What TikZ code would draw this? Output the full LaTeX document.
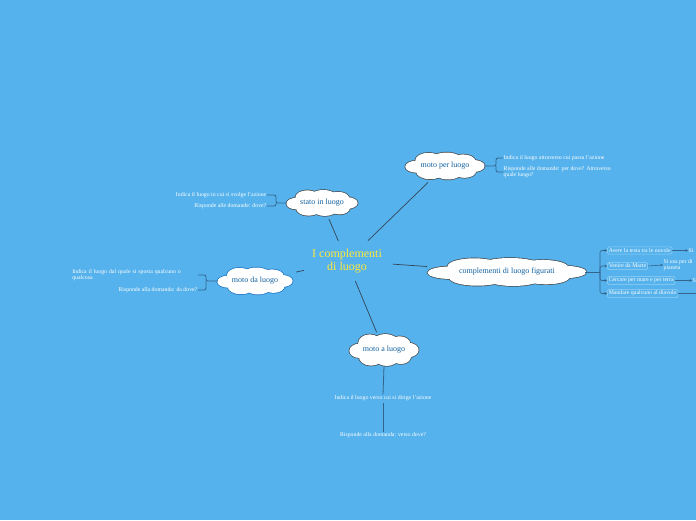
\documentclass[tikz,border=0pt]{standalone}
\usepackage{fontspec}
\setmainfont{Liberation Serif}
\usetikzlibrary{arrows.meta,calc}
\definecolor{bg}{RGB}{85,178,236}
\definecolor{ink}{RGB}{16,96,160}
\definecolor{edge}{RGB}{50,70,90}
\definecolor{brk}{RGB}{50,100,140}
\definecolor{boxline}{RGB}{150,210,245}
\definecolor{titlecol}{RGB}{255,232,60}
\definecolor{blueline}{RGB}{20,110,190}
\newcommand\puffset{0/0/0.8/0.7, -0.72/0.05/0.3/0.45, 0.72/0/0.3/0.45, -0.42/-0.42/0.34/0.56, 0.04/-0.5/0.38/0.5, 0.46/-0.36/0.32/0.5, -0.38/0.42/0.36/0.56, 0.08/0.46/0.36/0.54, 0.5/0.38/0.3/0.5}
% name, x, y, half width, half height, outline colour, text
\newcommand\cloudnode[7]{%
  \coordinate (#1-c) at (#2,#3);
  \foreach \dx/\dy/\rx/\ry in \puffset {\draw[#6, line width=1.3pt] ($(#1-c)+({\dx*#4},{\dy*#5})$) ellipse ({\rx*#4} and {\ry*#5});}
  \foreach \dx/\dy/\rx/\ry in \puffset {\fill[white] ($(#1-c)+({\dx*#4},{\dy*#5})$) ellipse ({\rx*#4} and {\ry*#5});}
  \node[ctext, minimum width={2*#4}, minimum height={2*#5}] (#1) at (#1-c) {#7};
}
\begin{document}
\begin{tikzpicture}[x=1pt,y=-1pt,
  ctext/.style={text=ink, font=\fontsize{8}{9}\selectfont, inner sep=0pt},
  note/.style={text=white, font=\fontsize{5.8}{6.2}\selectfont, inner sep=0.5pt},
  link/.style={draw=edge, line width=0.7pt},
  brace/.style={draw=brk, line width=0.8pt, rounded corners=2pt},
  figbox/.style={draw=boxline, rounded corners=1.5pt, line width=0.5pt, text=white, font=\fontsize{5.8}{6.2}\selectfont, inner sep=1.5pt, anchor=west},
  arr/.style={draw=brk, line width=0.6pt, -{Stealth[length=2.5pt,width=2.5pt]}}
]
\useasboundingbox[fill=bg] (0,0) rectangle (696,520);

\node[text=titlecol, align=center, font=\fontsize{12}{13}\selectfont] (root) at (347,261) {I complementi\\di luogo};

\cloudnode{per}{445}{166}{39}{13.5}{black!75}{moto per luogo}
\cloudnode{stato}{322}{203}{35}{13}{black!75}{stato in luogo}
\cloudnode{da}{255}{281}{37}{13.5}{blueline}{moto da luogo}
\cloudnode{fig}{507}{272}{78}{14}{black!75}{complementi di luogo figurati}
\cloudnode{ma}{384}{350}{34}{16}{black!75}{moto a luogo}

\draw[link] ($(root)!0.214!(per)$) -- ($(root)!0.827!(per)$);
\draw[link] ($(root)!0.345!(stato)$) -- ($(root)!0.724!(stato)$);
\draw[link] ($(root)!0.2875!(fig)$) -- ($(root)!0.5!(fig)$);
\draw[link] ($(root)!0.467!(da)$) -- ($(root)!0.554!(da)$);
\draw[link] ($(root)!0.225!(ma)$) -- ($(root)!0.80!(ma)$);

% moto per luogo
\node[note, anchor=west] (p1) at (503,158) {Indica il luogo attraverso cui passa l'azione};
\node[note, anchor=west, align=left] (p2) at (503,172) {Risponde alle domande: per dove? Attraverso\\quale luogo?};
\coordinate (pj) at (496,166);
\draw[brace] (per.east) -- (pj) |- (p1.west);
\draw[brace] (pj) |- (p2.west);

% stato in luogo
\node[note, anchor=east] (s1) at (267,195) {Indica il luogo in cui si svolge l'azione};
\node[note, anchor=east] (s2) at (267,206) {Risponde alle domande: dove?};
\coordinate (sj) at (276,203);
\draw[brace] (stato.west) -- (sj) |- (s1.east);
\draw[brace] (sj) |- (s2.east);

% moto da luogo
\node[note, anchor=east, text width=125pt, align=left] (d1) at (198,275) {Indica il luogo dal quale si sposta qualcuno o\\qualcosa};
\node[note, anchor=east] (d2) at (198,290) {Risponde alla domanda: da dove?};
\coordinate (dj) at (206,281);
\draw[brace] (da.west) -- (dj) |- (d1.east);
\draw[brace] (dj) |- (d2.east);

% moto a luogo
\node[note] (a1) at (383,398) {Indica il luogo verso cui si dirige l'azione};
\node[note] (a2) at (383,435) {Risponde alla domanda: verso dove?};
\draw[brace] (ma.south) -- (a1.north);
\draw[brace] (a1.south) ++(0,2) -- (a2.north);

% figurati
\node[figbox] (f1) at (607,250.5) {Avere la testa tra le nuvole};
\node[figbox] (f2) at (607,266) {Venire da Marte};
\node[figbox] (f3) at (607,280.5) {Cercare per mare e per terra};
\node[figbox] (f4) at (607,293.5) {Mandare qualcuno al diavolo};
\coordinate (fj) at (600,272);
\draw[brace] (fig.east) -- (fj);
\foreach \f in {f1,f2,f3,f4}{\draw[brace, arr] (fj) |- (\f.west);}

\node[note, anchor=west] (g1) at (688,250.5) {Si};
\node[note, anchor=west, align=left] (g2) at (663,265) {Si usa per di\\pianeta};
\node[note, anchor=west] (g3) at (692,280.5) {S};
\coordinate (g4) at (700,293.5);
\draw[arr] (f1.east) -- (g1.west);
\draw[arr] (f2.east) -- (g2.west);
\draw[arr] (f3.east) -- (g3.west);
\draw[arr] (f4.east) -- (g4);
\end{tikzpicture}
\end{document}
